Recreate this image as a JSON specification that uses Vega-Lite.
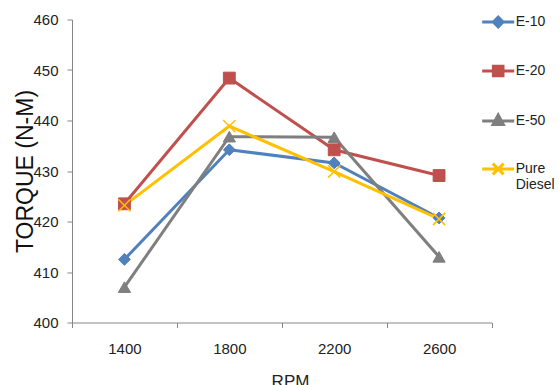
{
  "$schema": "https://vega.github.io/schema/vega-lite/v6.json",
  "width": 419.5,
  "height": 303,
  "autosize": {"type": "none"},
  "padding": {"left": 72, "top": 19.5, "right": 67.5, "bottom": 62.5},
  "background": "white",
  "config": {"view": {"stroke": null}, "font": "Liberation Sans"},
  "data": {
    "values": [
      {"series": "E-10", "rpm": "1400", "torque": 412.5},
      {"series": "E-10", "rpm": "1800", "torque": 434.2},
      {"series": "E-10", "rpm": "2200", "torque": 431.6},
      {"series": "E-10", "rpm": "2600", "torque": 420.7},
      {"series": "E-20", "rpm": "1400", "torque": 423.5},
      {"series": "E-20", "rpm": "1800", "torque": 448.4},
      {"series": "E-20", "rpm": "2200", "torque": 434.2},
      {"series": "E-20", "rpm": "2600", "torque": 429.1},
      {"series": "E-50", "rpm": "1400", "torque": 407.0},
      {"series": "E-50", "rpm": "1800", "torque": 436.8},
      {"series": "E-50", "rpm": "2200", "torque": 436.7},
      {"series": "E-50", "rpm": "2600", "torque": 413.0},
      {"series": "Pure Diesel", "rpm": "1400", "torque": 423.2},
      {"series": "Pure Diesel", "rpm": "1800", "torque": 438.9},
      {"series": "Pure Diesel", "rpm": "2200", "torque": 429.9},
      {"series": "Pure Diesel", "rpm": "2600", "torque": 420.5}
    ]
  },
  "encoding": {
    "x": {
      "field": "rpm",
      "type": "ordinal",
      "sort": ["1400", "1800", "2200", "2600"],
      "bandPosition": 0.5,
      "scale": {"type": "band", "paddingInner": 0, "paddingOuter": 0},
      "axis": {
        "title": "RPM",
        "tickBand": "extent",
        "labelAngle": 0,
        "domainColor": "#868686",
        "tickColor": "#868686",
        "tickSize": 5,
        "labelFont": "Liberation Sans",
        "labelFontSize": 15,
        "labelColor": "#222222",
        "labelPadding": 14,
        "titleFont": "Liberation Sans",
        "titleFontSize": 17,
        "titleFontWeight": "normal",
        "titleColor": "#222222",
        "titleX": 218,
        "titleY": 64,
        "titleAlign": "center",
        "titleBaseline": "alphabetic"
      }
    },
    "y": {
      "field": "torque",
      "type": "quantitative",
      "scale": {"domain": [400, 460], "nice": false, "zero": false},
      "axis": {
        "title": "TORQUE (N-M)",
        "values": [400, 410, 420, 430, 440, 450, 460],
        "grid": false,
        "domainColor": "#868686",
        "tickColor": "#868686",
        "tickSize": 5,
        "labelFont": "Liberation Sans",
        "labelFontSize": 15,
        "labelColor": "#222222",
        "labelPadding": 9,
        "titleFont": "Liberation Sans",
        "titleFontSize": 23,
        "titleFontWeight": "normal",
        "titleColor": "#111111",
        "titleX": -40,
        "titleY": 151.5,
        "titleAngle": -90,
        "titleAlign": "center",
        "titleBaseline": "alphabetic"
      }
    },
    "color": {
      "field": "series",
      "type": "nominal",
      "scale": {
        "domain": ["E-10", "E-20", "E-50", "Pure Diesel"],
        "range": ["#4F81BD", "#C0504D", "#7F7F7F", "#FFC000"]
      },
      "legend": {
        "title": null,
        "orient": "none",
        "legendX": 418.7,
        "legendY": -5,
        "padding": 0,
        "symbolSize": 144,
        "symbolOffset": 0,
        "symbolStrokeWidth": 3,
        "labelOffset": 10,
        "rowPadding": 26,
        "labelFont": "Liberation Sans",
        "labelFontSize": 14,
        "labelColor": "#222222",
        "labelLineHeight": 24,
        "labelExpr": "datum.label == 'Pure Diesel' ? ['Pure', 'Diesel'] : datum.label"
      }
    }
  },
  "layer": [
    {
      "mark": {"type": "line", "strokeWidth": 3}
    },
    {
      "transform": [{"filter": "datum.series == 'E-10'"}],
      "mark": {"type": "point", "filled": true, "shape": "diamond", "size": 140, "color": "#4F81BD", "strokeWidth": 1, "stroke": "#4F81BD", "opacity": 1},
      "encoding": {"color": {"value": "#4F81BD"}}
    },
    {
      "transform": [{"filter": "datum.series == 'E-20'"}],
      "mark": {"type": "point", "filled": true, "shape": "square", "size": 140, "color": "#C0504D", "strokeWidth": 1, "stroke": "#C0504D", "opacity": 1},
      "encoding": {"color": {"value": "#C0504D"}}
    },
    {
      "transform": [{"filter": "datum.series == 'E-50'"}],
      "mark": {"type": "point", "filled": true, "shape": "triangle-up", "size": 150, "color": "#7F7F7F", "strokeWidth": 1, "stroke": "#7F7F7F", "opacity": 1},
      "encoding": {"color": {"value": "#7F7F7F"}}
    },
    {
      "transform": [{"filter": "datum.series == 'Pure Diesel'"}],
      "mark": {"type": "point", "filled": false, "shape": "M-1,-1L1,1M-1,1L1,-1", "size": 150, "color": "#FFC000", "strokeWidth": 1.5, "opacity": 1},
      "encoding": {"color": {"value": "#FFC000"}}
    },
    {
      "transform": [{"filter": "datum.series == 'none'"}],
      "mark": {"type": "point", "filled": true, "strokeWidth": 3, "opacity": 1},
      "encoding": {
        "shape": {
          "field": "series",
          "type": "nominal",
          "scale": {
            "domain": ["E-10", "E-20", "E-50", "Pure Diesel"],
            "range": [
              "M-2.67,0L2.67,0M-0.8,0L0,-0.8L0.8,0L0,0.8Z",
              "M-2.67,0L2.67,0M-0.8,-0.8L0.8,-0.8L0.8,0.8L-0.8,0.8Z",
              "M-2.67,0L2.67,0M0,-1L0.85,0.6L-0.85,0.6Z",
              "M-2.67,0L2.67,0M-0.9,-0.9L0.9,0.9M-0.9,0.9L0.9,-0.9"
            ]
          }
        },
        "stroke": {
          "field": "series",
          "type": "nominal",
          "scale": {
            "domain": ["E-10", "E-20", "E-50", "Pure Diesel"],
            "range": ["#4F81BD", "#C0504D", "#7F7F7F", "#FFC000"]
          }
        }
      }
    }
  ]
}
